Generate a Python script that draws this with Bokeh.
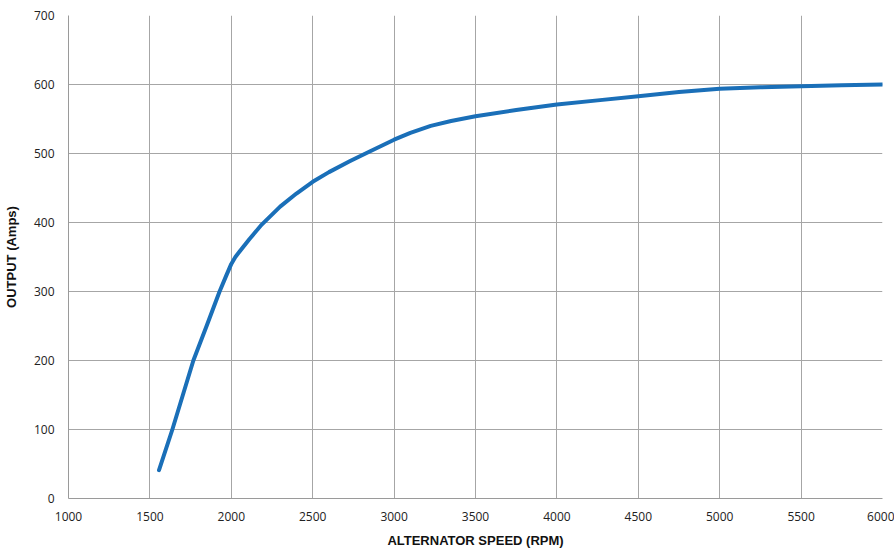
from bokeh.plotting import figure
from bokeh.embed import file_html
from bokeh.resources import INLINE
from bokeh.models import Range1d, FixedTicker

rpm = [1556, 1638, 1767, 1850, 1928, 1969, 2000, 2025, 2051, 2112, 2187, 2300, 2400,
       2500, 2600, 2730, 2850, 3000, 3100, 3225, 3350, 3500, 3750, 4000, 4250, 4500,
       4750, 5000, 5250, 5500, 5750, 6000]
amps = [41, 100, 200, 251, 300, 323, 340, 350, 358, 376, 397, 423, 442,
        459, 473, 489, 503, 520, 530, 540, 547, 554, 563, 571, 577, 583,
        589, 594, 596, 597.5, 599, 600]

x_ticks = [1000, 1500, 2000, 2500, 3000, 3500, 4000, 4500, 5000, 5500, 6000]
y_ticks = [0, 100, 200, 300, 400, 500, 600, 700]

p = figure(width=894, height=550, output_backend="svg", toolbar_location=None,
           x_range=Range1d(1000, 6000), y_range=Range1d(0, 700),
           min_border_left=68, min_border_right=12, min_border_top=15, min_border_bottom=52)
p.outline_line_color = None
p.background_fill_color = "white"

p.line(rpm, amps, line_color="#1a6fb8", line_width=4, line_cap="round", line_join="round")

for ax, ticks in ((p.xaxis, x_ticks), (p.yaxis, y_ticks)):
    ax.ticker = FixedTicker(ticks=ticks)
    ax.axis_line_color = "#9a9a9a"
    ax.axis_line_width = 1
    ax.major_tick_line_color = None
    ax.minor_tick_line_color = None
    ax.major_label_text_font = "Open Sans"
    ax.major_label_text_font_size = "12px"
    ax.major_label_text_color = "#222222"
    ax.axis_label_text_font = "Liberation Sans"
    ax.axis_label_text_font_style = "bold"
    ax.axis_label_text_font_size = "13px"
    ax.axis_label_text_color = "#111111"

p.xaxis.axis_label = "ALTERNATOR SPEED (RPM)"
p.yaxis.axis_label = "OUTPUT (Amps)"
p.xaxis.major_label_standoff = 7
p.yaxis.major_label_standoff = 8
p.xaxis.axis_label_standoff = 9
p.yaxis.axis_label_standoff = 12

p.xgrid.ticker = FixedTicker(ticks=x_ticks)
p.ygrid.ticker = FixedTicker(ticks=y_ticks)
for g in (p.xgrid, p.ygrid):
    g.grid_line_color = "#a6a6a6"
    g.grid_line_width = 1

open("out.html", "w").write(file_html(p, INLINE))
